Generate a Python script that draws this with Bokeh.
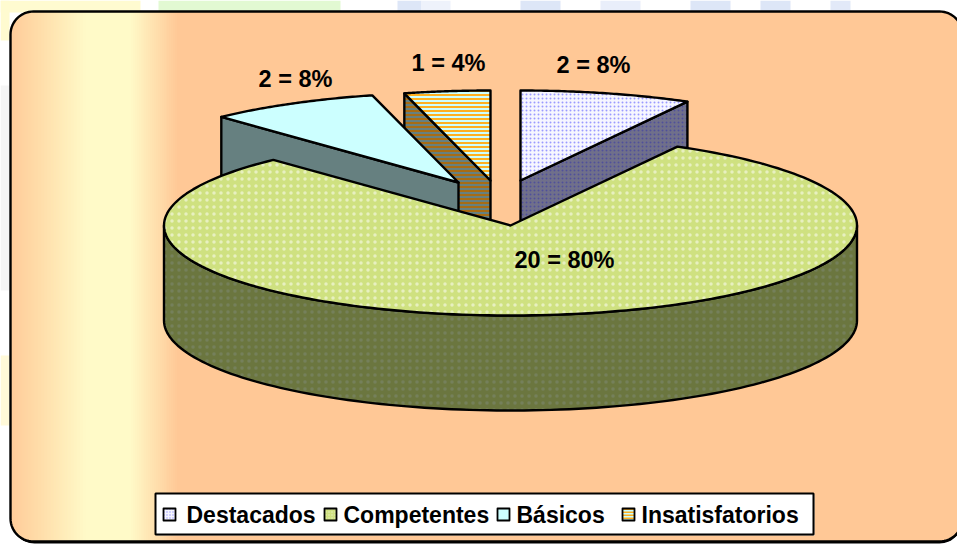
import numpy as np
from bokeh.plotting import figure
from bokeh.models import Range1d
from bokeh.embed import file_html
from bokeh.resources import INLINE
from bokeh.core.properties import value

categories = ["Destacados", "Competentes", "Básicos", "Insatisfatorios"]
counts = [2, 20, 2, 1]
percents = [8, 80, 8, 4]

W, H = 957, 544
CX, CY, RX, RY, DEPTH = 510, 225, 346.5, 90, 95
EXPLODE = [(10, -45), (0, 0), (-52, -43), (-20, -45)]
LABEL_POS = [(593, 64), (564, 259), (295, 78), (448, 62)]
FONT = "Liberation Sans"

p = figure(width=W, height=H, output_backend="svg", toolbar_location=None,
           x_range=Range1d(0, W), y_range=Range1d(H, 0), min_border=0,
           outline_line_color=None, background_fill_color="#ffffff",
           border_fill_color="#ffffff")
p.styles = {"position": "absolute", "left": "0px", "top": "0px"}
p.xaxis.visible = False
p.yaxis.visible = False
p.grid.visible = False

# faint page background behind the panel
BG_X0 = [0, 158, 397, 421, 520, 600, 690, 760, 830]
BG_X1 = [140, 340, 421, 450, 560, 640, 730, 790, 850]
BG_C = ["#fffbd0", "#e2f9d2", "#dde6f7", "#eef2fb", "#dde6f7", "#e9eefa", "#dde6f7", "#dde6f7", "#e2e9f8"]
p.quad(left=BG_X0, right=BG_X1, top=[0] * len(BG_X0), bottom=[12] * len(BG_X0), fill_color=BG_C, line_color=None)
p.quad(left=[0, 0, 0], right=[9, 9, 9], top=[0, 85, 355], bottom=[40, 290, 425],
       fill_color=["#fffbd0", "#f5f5f5", "#fff9d8"], line_color=None)


def rounded(x0, y0, x1, y1, r):
    xs, ys = [], []
    for cx, cy, a0 in [(x0 + r, y0 + r, 180), (x1 - r, y0 + r, 270), (x1 - r, y1 - r, 0), (x0 + r, y1 - r, 90)]:
        t = np.radians(np.linspace(a0, a0 + 90, 16))
        xs += list(cx + r * np.cos(t))
        ys += list(cy + r * np.sin(t))
    return xs, ys


PX0, PY0, PX1, PY1, PR = 10, 11, 962, 541, 23
# drop shadow at the bottom of the panel
sx, sy = rounded(PX0 + 1, PY0 + 2, PX1, PY1 + 2, PR)
p.patch(sx, sy, fill_color="#000000", line_color=None)
px, py = rounded(PX0, PY0, PX1, PY1, PR)
p.patch(px, py, fill_color="#ffc896", line_color=None)

# horizontal gradient stripes inside the rounded panel
GRAD_STOPS = [10, 40, 85, 130, 178]
GRAD_COLS = [(255, 204, 154), (255, 222, 170), (255, 250, 200), (255, 250, 200), (255, 200, 150)]
xs = np.arange(PX0, 178, 1.0)
rgb = [np.interp(xs + 0.5, GRAD_STOPS, [c[i] for c in GRAD_COLS]) for i in range(3)]
cols = ["#%02x%02x%02x" % (int(r), int(g), int(b)) for r, g, b in zip(*rgb)]
dx = np.clip(PX0 + PR - (xs + 0.5), 0, PR)
inset = PR - np.sqrt(np.maximum(PR ** 2 - dx ** 2, 0))
p.quad(left=xs, right=xs + 1.6, top=PY0 + inset, bottom=PY1 - inset, fill_color=cols, line_color=None)
p.patch(px, py, fill_color=None, line_color="#000000", line_width=2.4)

# styles per slice
TOP = ["#f6f6ff", "#cfe180", "#ccffff", "#ccffff"]
TOP_H = ["#9a9aff", "#ffffff", None, "#ffb020"]
TOP_P = ["dot", "dot", None, "horizontal_line"]
SIDE = ["#70708a", "#6b763f", "#668080", "#668080"]
SIDE_H = ["#50509a", "#7f8a78", None, "#a86c14"]
SIDE_P = ["dot", "dot", None, "horizontal_line"]
HSCALE = [4, 7, 4, 4]
HW = [0.7, 0.5, 1, 2]
HALPHA = [1, 0.5, 1, 1]


def style(kind, i):
    fill, hc, pat = (TOP[i], TOP_H[i], TOP_P[i]) if kind == "top" else (SIDE[i], SIDE_H[i], SIDE_P[i])
    kw = dict(fill_color=fill, line_color="#000000", line_width=2.4, line_join="round")
    if pat:
        kw.update(hatch_pattern=pat, hatch_color=hc, hatch_scale=HSCALE[i], hatch_weight=HW[i], hatch_alpha=HALPHA[i])
    return kw


total = sum(counts)
edges = np.cumsum([0] + counts) / total * 360.0


def rim(i, n=60):
    t = np.radians(np.linspace(edges[i], edges[i + 1], n))
    ox, oy = EXPLODE[i]
    return CX + ox + RX * np.sin(t), CY + oy - RY * np.cos(t)


def draw_small(i, walls):
    ox, oy = EXPLODE[i]
    ax, ay = CX + ox, CY + oy
    rx, ry = rim(i)
    for corner in walls:
        qx, qy = rx[corner], ry[corner]
        p.patch([ax, qx, qx, ax], [ay, qy, qy + DEPTH, ay + DEPTH], **style("side", i))
    p.patch([ax] + list(rx), [ay] + list(ry), **style("top", i))


# back slices, in painter's order
draw_small(3, [0])
draw_small(0, [-1])
draw_small(2, [0])

# big slice: outer wall then top
t = np.radians(np.linspace(90, 270, 120))
wx = CX + RX * np.sin(t)
wy = CY - RY * np.cos(t)
p.patch(list(wx) + list(wx[::-1]), list(wy + DEPTH) + list(wy[::-1]), **style("side", 1))
gx, gy = rim(1, 200)
p.patch([CX] + list(gx), [CY] + list(gy), **style("top", 1))

# data labels
for i in range(len(categories)):
    lx, ly = LABEL_POS[i]
    p.text([lx], [ly], text=[f"{counts[i]} = {percents[i]}%"], text_font=value(FONT), text_font_style="bold",
           text_font_size="23.5px", text_color="#000000", text_align="center", text_baseline="middle")

# legend
LEG = (155, 493, 813, 534)
p.quad(left=[LEG[0] + 1], right=[LEG[2] + 1], top=[LEG[1] + 1], bottom=[LEG[3] + 1], fill_color="#c8c8c8", line_color=None)
p.quad(left=[LEG[0]], right=[LEG[2]], top=[LEG[1]], bottom=[LEG[3]], fill_color="#ffffff", line_color="#000000", line_width=2)
LEG_MX = [163, 324, 497, 622]
LEG_TX = [186, 343, 516, 641]
LEG_Y = 514
for i, name in enumerate(categories):
    kw = style("top", i)
    kw["hatch_scale"] = 3
    kw["line_width"] = 1.8
    p.quad(left=[LEG_MX[i]], right=[LEG_MX[i] + 12], top=[LEG_Y - 6], bottom=[LEG_Y + 6], **kw)
    p.text([LEG_TX[i]], [LEG_Y], text=[name], text_font=value(FONT), text_font_style="bold",
           text_font_size="23px", text_color="#000000", text_align="left", text_baseline="middle")

open("out.html", "w").write(file_html(p, INLINE))
